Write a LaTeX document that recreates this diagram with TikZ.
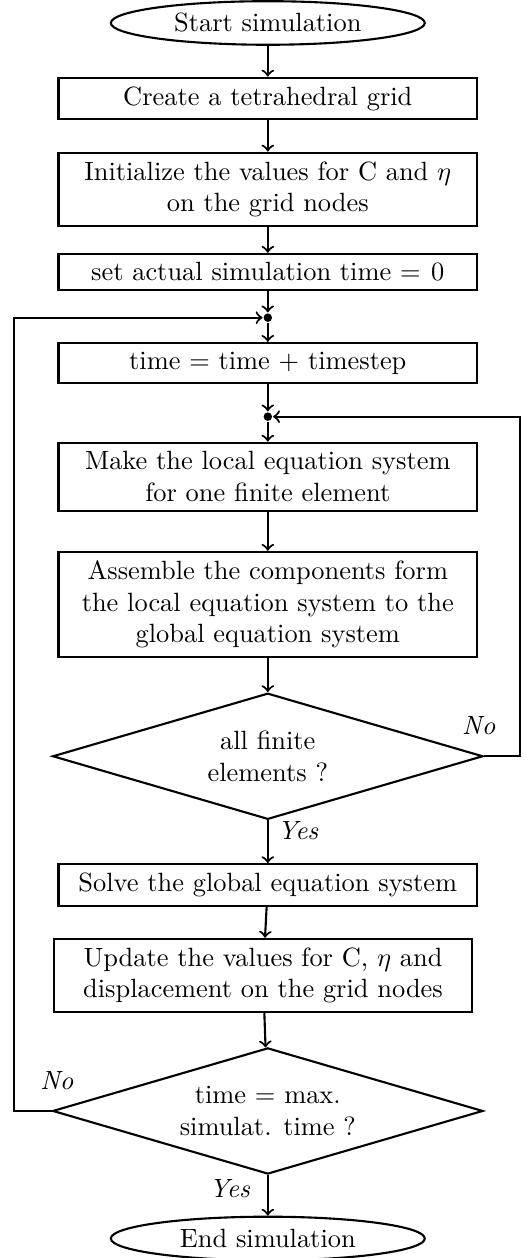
\documentclass[tikz,border=0pt]{standalone}
\usepackage{amsmath}
\usepackage{tikz}
\usetikzlibrary{shapes, shapes.geometric, arrows, calc}
\tikzstyle{startstop} = [
    ellipse,
    minimum width = 4.18cm,
    minimum height = 0.58cm,
    inner sep = 1pt,
    text centered,
    draw = black,
]
\tikzstyle{process} = [
    rectangle,
    text width = 5.34cm,
    align = center,
    draw = black,
]
\tikzstyle{decision} = [
    diamond,
    aspect = 3.4,
    minimum width = 5.73cm,
    minimum height = 1.68cm,
    inner sep = 0pt,
    align = center,
    draw = black,
]
\tikzstyle{junction} = [
    circle,
    fill = black,
    inner sep = 0pt,
    minimum size = 3.2pt,
]

\begin{document}
\begin{tikzpicture} [node distance = 1cm, thick]
    \useasboundingbox (-3.566, 0.306) rectangle (3.425, -16.445);

    \node (Start) [startstop] {Start simulation};
    \node (Grid) [process, below of = Start, node distance = 1.005cm] {Create a tetrahedral grid};
    \node (Init) [process, below of = Grid, node distance = 1.209cm] {Initialize the values for C and $\eta$\\on the grid nodes};
    \node (Zero) [process, below of = Init, node distance = 1.101cm] {set actual simulation time $= 0$};
    \node (JoinTime) [junction, below of = Zero, node distance = 0.609cm] {};
    \node (Step) [process, below of = JoinTime, node distance = 0.603cm] {time = time + timestep};
    \node (JoinElem) [junction, below of = Step, node distance = 0.715cm] {};
    \node (Local) [process, below of = JoinElem, node distance = 0.799cm] {Make the local equation system\\for one finite element};
    \node (Assemble) [process, below of = Local, node distance = 1.702cm] {Assemble the components form\\the local equation system to the\\global equation system};
    \node (AllElem) [decision, below of = Assemble, node distance = 2.021cm] {all finite\\elements ?};
    \node (Solve) [process, below of = AllElem, node distance = 1.714cm] {Solve the global equation system};
    \node (Update) [process, below of = Solve, node distance = 1.205cm, xshift = -0.064cm] {Update the values for C, $\eta$ and\\displacement on the grid nodes};
    \node (MaxTime) [decision, below of = Update, node distance = 1.804cm, xshift = 0.064cm] {time $=$ max.\\simulat. time ?};
    \node (End) [startstop, below of = MaxTime, node distance = 1.698cm] {End simulation};

    \draw[->] (Start) -- (Grid);
    \draw[->] (Grid) -- (Init);
    \draw[->] (Init) -- (Zero);
    \draw[->] (Zero) -- (JoinTime);
    \draw[->] (JoinTime) -- (Step);
    \draw[->] (Step) -- (JoinElem);
    \draw[->] (JoinElem) -- (Local);
    \draw[->] (Local) -- (Assemble);
    \draw[->] (Assemble) -- (AllElem);
    \draw[->] (AllElem) -- node (YesElem) [near start, right] {\textit{Yes}} (Solve);
    \draw[->] (Solve) -- (Update);
    \draw[->] (Update) -- (MaxTime);
    \draw[->] (MaxTime) -- node (YesTime) [pos = 0.33, left, xshift = -3pt] {\textit{Yes}} (End);

    \draw[->] (AllElem.east) node (NoElem) [above = 1.5mm, xshift = -2pt] {\textit{No}} -- ($(AllElem.east) + (0.48, 0)$) |- (JoinElem);
    \draw[->] (MaxTime.west) node (NoTime) [above = 1.5mm, xshift = 2pt] {\textit{No}} -- ($(MaxTime.west) - (0.5, 0)$) |- (JoinTime);
\end{tikzpicture}
\end{document}
